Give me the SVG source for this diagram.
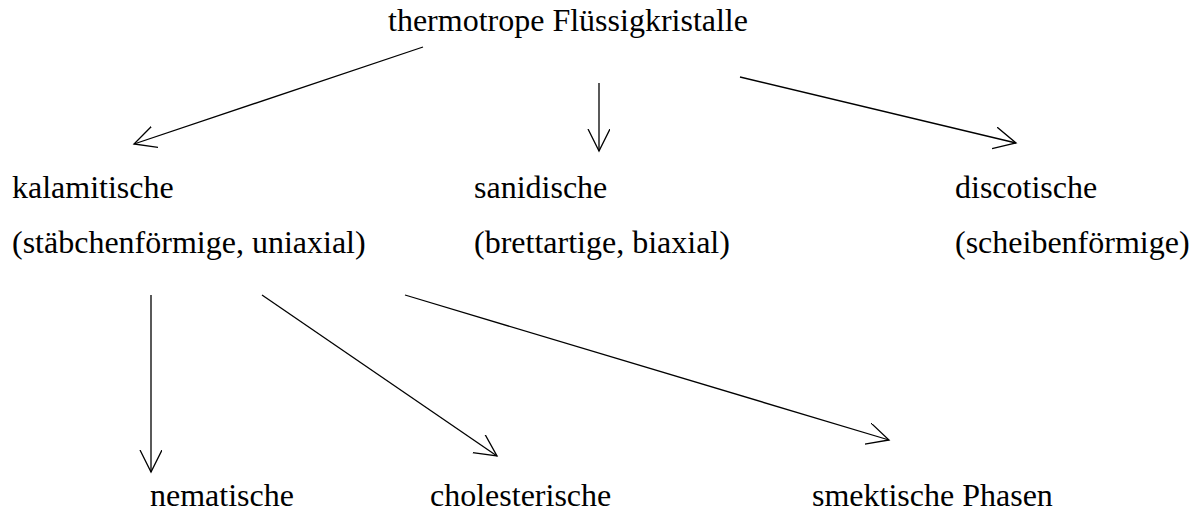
<svg xmlns="http://www.w3.org/2000/svg" width="1197" height="515" viewBox="0 0 1197 515">
<style>
text{font-family:"Liberation Serif","Times New Roman",serif;font-size:32px;fill:#000}
.c line{stroke:#000;stroke-width:1.3;fill:none}
</style>
<defs>
<marker id="a" markerWidth="30" markerHeight="30" refX="22" refY="11" orient="auto" markerUnits="userSpaceOnUse">
<path d="M0,0 L22,11 L0,22" fill="none" stroke="#000" stroke-width="1.3"/>
</marker>
</defs>
<rect width="1197" height="515" fill="#fff"/>
<g id="n0"><text x="388" y="31">thermotrope Flüssigkristalle</text></g>
<g id="n1"><text x="12" y="198">kalamitische</text><text x="12" y="253">(stäbchenförmige, uniaxial)</text></g>
<g id="n2"><text x="474" y="198">sanidische</text><text x="474" y="253">(brettartige, biaxial)</text></g>
<g id="n3"><text x="955" y="198">discotische</text><text x="955" y="253">(scheibenförmige)</text></g>
<g id="n4"><text x="150" y="506">nematische</text></g>
<g id="n5"><text x="430" y="506">cholesterische</text></g>
<g id="n6"><text x="812" y="506">smektische Phasen</text></g>
<g class="c" id="connectors">
<line x1="423" y1="47" x2="134" y2="144" marker-end="url(#a)"/>
<line x1="599" y1="83" x2="599" y2="151" marker-end="url(#a)"/>
<line x1="740" y1="77" x2="1016" y2="143" marker-end="url(#a)"/>
<line x1="151" y1="295" x2="151" y2="472" marker-end="url(#a)"/>
<line x1="262" y1="295" x2="497" y2="456" marker-end="url(#a)"/>
<line x1="405" y1="295" x2="889" y2="440" marker-end="url(#a)"/>
</g>
</svg>
